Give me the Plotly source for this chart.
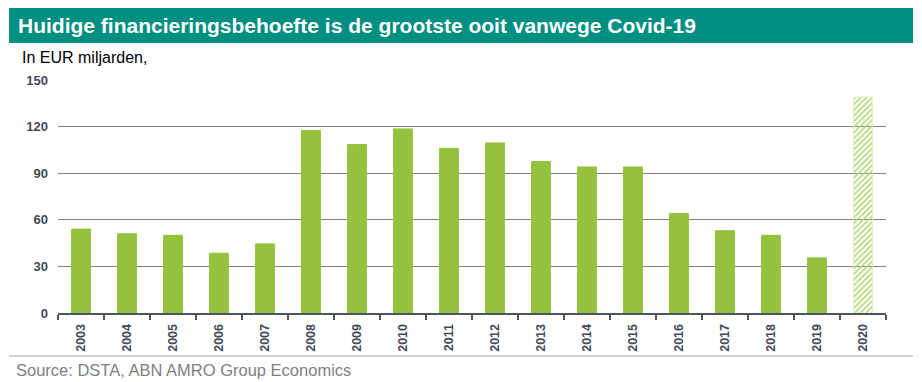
import plotly.graph_objects as go

years = ["2003", "2004", "2005", "2006", "2007", "2008", "2009", "2010", "2011",
         "2012", "2013", "2014", "2015", "2016", "2017", "2018", "2019", "2020"]
values = [54, 51, 50, 38.5, 44.5, 117.5, 108.5, 118.5, 106, 109.5, 97.5, 94, 94,
          64, 53, 50, 35.5, 139]
y_ticks = [0, 30, 60, 90, 120, 150]

GREEN = "#95c23d"
LIGHT = "#b3d675"
TEAL = "#008f80"
TICKCOL = "#3f4a5a"

n = len(years)
colors = [GREEN] * (n - 1) + [LIGHT]
shapes_pat = [""] * (n - 1) + ["/"]
line_cols = [GREEN] * (n - 1) + ["#e2efcb"]

fig = go.Figure()
fig.add_trace(go.Bar(
    x=years, y=values,
    marker=dict(color=colors,
                line=dict(color=line_cols, width=1),
                pattern=dict(shape=shapes_pat, size=4, solidity=0.4, fillmode="replace")),
    hoverinfo="x+y",
))

font_main = "Arial, Liberation Sans, sans-serif"

# The page body has an 8px default margin; the figure is sized to compensate.
PW, PH = 828, 233      # plot-area size in pixels
L0, T0 = 58, 80        # plot-area top-left in the reference picture


def px(x):
    return (x - L0) / PW


def py(y):
    return (T0 + PH - y) / PH


fig.update_layout(
    width=914, height=374,
    margin=dict(l=50, r=36, t=72, b=69),
    paper_bgcolor="white", plot_bgcolor="white",
    bargap=0.59,
    showlegend=False,
    font=dict(family=font_main),
    xaxis=dict(
        type="category",
        showgrid=False,
        showline=True, linecolor="#4a5662", linewidth=2,
        ticks="outside", tickson="boundaries", ticklen=5, tickwidth=2, tickcolor="#4a5662",
        tickangle=-90, ticklabelstandoff=4,
        tickfont=dict(family=font_main, size=12.5, color=TICKCOL, weight="bold"),
    ),
    yaxis=dict(
        range=[0, 150],
        tickvals=y_ticks,
        showgrid=True, gridcolor="#808080", gridwidth=1,
        zeroline=False, showline=False,
        ticks="", ticklabelstandoff=9,
        tickfont=dict(family=font_main, size=13, color=TICKCOL, weight="bold"),
    ),
    shapes=[
        dict(type="rect", xref="paper", yref="paper",
             x0=px(9), x1=px(913), y0=py(43), y1=py(8),
             fillcolor=TEAL, line=dict(width=0), layer="below"),
        dict(type="line", xref="paper", yref="paper",
             x0=px(9), x1=px(913), y0=py(356), y1=py(356),
             line=dict(color="#c4c4c4", width=1.5)),
    ],
    annotations=[
        dict(text="<b>Huidige financieringsbehoefte is de grootste ooit vanwege Covid-19</b>",
             xref="paper", yref="paper", x=px(16), y=py(26),
             xanchor="left", yanchor="middle", showarrow=False,
             font=dict(family=font_main, size=21, color="white")),
        dict(text="In EUR miljarden,",
             xref="paper", yref="paper", x=px(20), y=py(57),
             xanchor="left", yanchor="middle", showarrow=False,
             font=dict(family=font_main, size=16, color="black")),
        dict(text="Source: DSTA, ABN AMRO Group Economics",
             xref="paper", yref="paper", x=px(14), y=py(370),
             xanchor="left", yanchor="middle", showarrow=False,
             font=dict(family=font_main, size=16.5, color="#7f7f7f")),
    ],
)

fig.write_html("out.html")
